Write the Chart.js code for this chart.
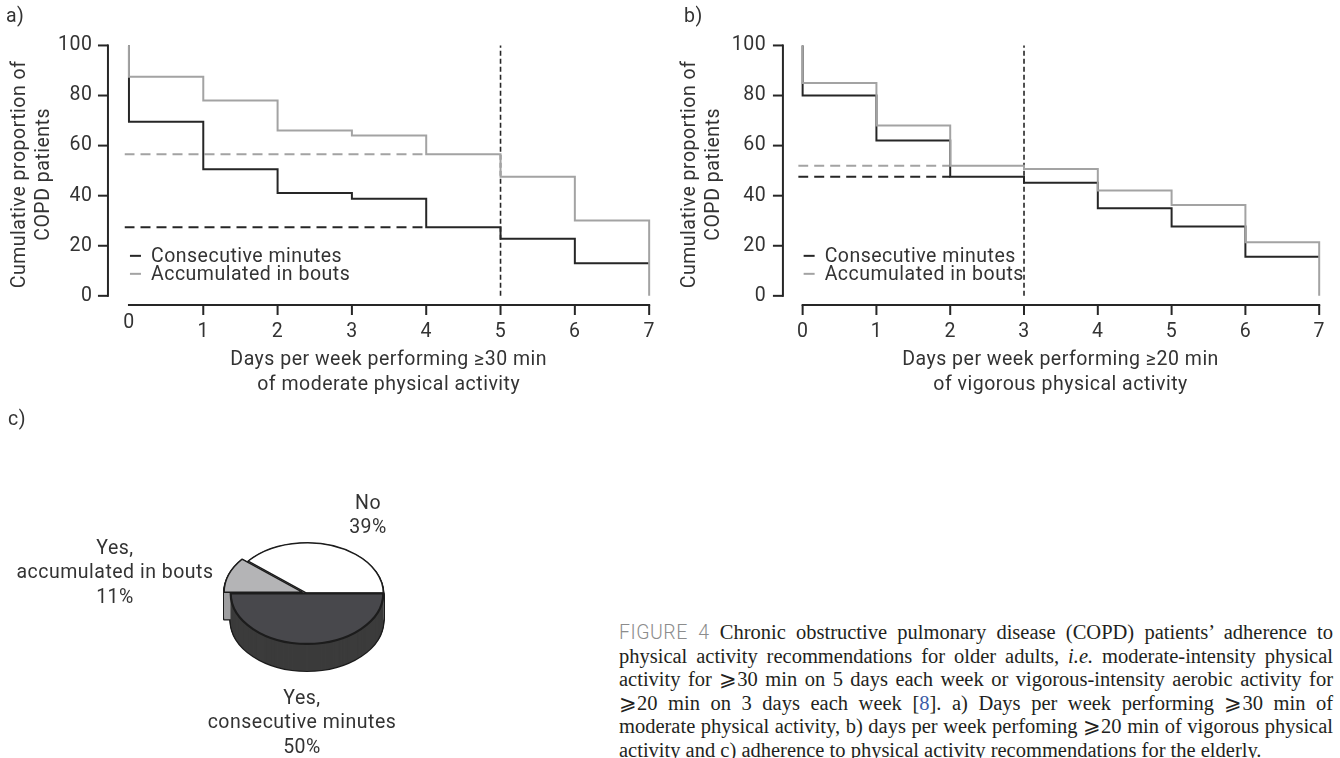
<!DOCTYPE html>
<html><head><meta charset="utf-8">
<script src="https://cdn.jsdelivr.net/npm/chart.js@4.4.1/dist/chart.umd.min.js"></script>
<style>
html,body{margin:0;padding:0;background:#fff;}
body{width:1340px;height:758px;position:relative;overflow:hidden;}
canvas{position:absolute;display:block;}
#chartA{left:0;top:0;}
#chartB{left:670px;top:0;}
#chartC{left:0;top:400px;}
#caption{position:absolute;left:619px;top:621px;width:714px;font-family:'Liberation Serif',serif;font-size:20.5px;line-height:23.5px;color:#231f20;}
#caption .ln{text-align:justify;text-align-last:justify;height:23.5px;white-space:normal;}
#caption .last{text-align-last:left;}
#caption .fig{font-family:Roboto,sans-serif;font-weight:300;color:#8c8c8c;letter-spacing:0.5px;font-size:19.5px;}
#caption .ref{color:#3b5ca8;}
</style>
</head><body>
<canvas id="chartA" width="670" height="400"></canvas>
<canvas id="chartB" width="670" height="400"></canvas>
<canvas id="chartC" width="560" height="358"></canvas>
<div id="caption">
<div class="ln"><span class="fig">FIGURE 4</span> Chronic obstructive pulmonary disease (COPD) patients’ adherence to</div>
<div class="ln">physical activity recommendations for older adults, <i>i.e.</i> moderate-intensity physical</div>
<div class="ln">activity for ⩾30 min on 5 days each week or vigorous-intensity aerobic activity for</div>
<div class="ln">⩾20 min on 3 days each week [<span class="ref">8</span>]. a) Days per week performing ⩾30 min of</div>
<div class="ln">moderate physical activity, b) days per week perfoming ⩾20 min of vigorous physical</div>
<div class="ln last">activity and c) adherence to physical activity recommendations for the elderly.</div>
</div>
<script>
// ---------------- DATA ----------------
const days = [0, 1, 2, 3, 4, 5, 6, 7];
const yTicks = [0, 20, 40, 60, 80, 100];
const startLevel = 100;
const seriesLabels = ['Consecutive minutes', 'Accumulated in bouts'];
// level held from day i to day i+1 (last entry = value at day 7)
const aConsecutive = [69.5, 50.6, 41.1, 38.8, 27.4, 22.8, 13.0, 13.0];
const aBouts       = [87.5, 78.0, 66.0, 64.0, 56.5, 47.6, 30.1, 0];
const bConsecutive = [80.0, 62.0, 47.6, 45.2, 35.0, 27.7, 15.6, 15.6];
const bBouts       = [85.0, 68.0, 52.0, 50.7, 42.1, 36.3, 21.4, 0];
const aThreshold = 5;
const bThreshold = 3;
const yTitle = ['Cumulative proportion of', 'COPD patients'];
const aXTitle = ['Days per week performing \u226530 min', 'of moderate physical activity'];
const bXTitle = ['Days per week performing \u226520 min', 'of vigorous physical activity'];
const pieLabels = ['Yes,\nconsecutive minutes', 'Yes,\naccumulated in bouts', 'No'];
const pieValues = [50, 11, 39];

// ---------------- STYLE ----------------
const FONT = 'Roboto, "Noto Sans", sans-serif';
const TXT = '#333333';
const DARK = '#262626';
const GREY = '#a3a3a3';
const SPACING = '0.5px';
Chart.defaults.font.family = FONT;
Chart.defaults.font.size = 19.5;
Chart.defaults.color = TXT;

const spacingPlugin = {
  id: 'letterSpacing',
  beforeUpdate(chart) { chart.ctx.letterSpacing = SPACING; },
  beforeDraw(chart) { chart.ctx.letterSpacing = SPACING; }
};

const panelPlugin = {
  id: 'panelAxes',
  afterDraw(chart, args, o) {
    const {ctx, chartArea, scales: {x, y}} = chart;
    const x0 = x.getPixelForValue(days[0]);
    const xN = x.getPixelForValue(days[days.length - 1]);
    const yAxisX = x0 - o.yAxisGap;
    ctx.save();
    ctx.strokeStyle = DARK; ctx.lineWidth = 2; ctx.lineCap = 'butt';
    ctx.beginPath();
    ctx.moveTo(yAxisX, y.getPixelForValue(yTicks[0]) + 1);
    ctx.lineTo(yAxisX, y.getPixelForValue(yTicks[yTicks.length - 1]) - 1);
    ctx.stroke();
    yTicks.forEach(v => {
      const py = y.getPixelForValue(v);
      ctx.beginPath(); ctx.moveTo(yAxisX - o.tickLen, py); ctx.lineTo(yAxisX, py); ctx.stroke();
    });
    const ay = chartArea.bottom;
    ctx.beginPath(); ctx.moveTo(x0 - 1, ay); ctx.lineTo(xN + 1, ay); ctx.stroke();
    days.forEach(d => {
      if (d === days[0] && !o.zeroTick) return;
      const px = x.getPixelForValue(d);
      ctx.beginPath(); ctx.moveTo(px, ay); ctx.lineTo(px, ay + o.tickLen); ctx.stroke();
    });
    // legend
    const zeroY = y.getPixelForValue(0);
    ctx.font = '19.5px ' + FONT; ctx.textBaseline = 'middle'; ctx.textAlign = 'left';
    seriesLabels.forEach((lab, i) => {
      const ds = chart.data.datasets.find(d => d.label === lab);
      const ly = zeroY - o.legendRows[i];
      ctx.strokeStyle = ds.borderColor; ctx.lineWidth = 2;
      ctx.beginPath(); ctx.moveTo(x0 + 1, ly); ctx.lineTo(x0 + 12, ly); ctx.stroke();
      ctx.fillStyle = TXT; ctx.fillText(lab, x0 + o.legendTextGap, ly + 1);
    });
    ctx.fillStyle = TXT;
    ctx.fillText(o.tag, o.tagX, o.tagY);
    ctx.restore();
  }
};

function stepPoints(levels) {
  const pts = [{x: days[0], y: startLevel}];
  levels.forEach((v, i) => pts.push({x: days[i], y: v}));
  return pts;
}

function makePanel(id, p) {
  const xMin = -0.06, xMax = 7.05;
  const guideIdx = p.threshold - 1;
  const datasets = [
    {label: seriesLabels[1], data: stepPoints(p.bouts), borderColor: GREY, borderWidth: 2, stepped: 'before', order: 0},
    {label: seriesLabels[0], data: stepPoints(p.consecutive), borderColor: DARK, borderWidth: 2, stepped: 'before', order: 1},
    {label: 'bouts guide', data: [{x: xMin, y: p.bouts[guideIdx]}, {x: days[guideIdx], y: p.bouts[guideIdx]}], borderColor: GREY, borderWidth: 2, borderDash: [10, 6], order: 2},
    {label: 'consecutive guide', data: [{x: xMin, y: p.consecutive[guideIdx]}, {x: days[guideIdx], y: p.consecutive[guideIdx]}], borderColor: DARK, borderWidth: 2, borderDash: [10, 6], order: 3},
    {label: 'recommendation', data: [{x: p.threshold, y: 0}, {x: p.threshold, y: 100}], borderColor: DARK, borderWidth: 1.6, borderDash: [5, 3], order: 4}
  ];
  return new Chart(document.getElementById(id), {
    type: 'line',
    data: {datasets},
    options: {
      responsive: false, animation: false, devicePixelRatio: 1,
      layout: {padding: {left: 0, right: p.padRight, top: 20, bottom: 0}},
      elements: {point: {radius: 0}, line: {tension: 0, fill: false, borderCapStyle: 'butt'}},
      plugins: {legend: {display: false}, tooltip: {enabled: false},
        panelAxes: {yAxisGap: p.yAxisGap, tickLen: 10, zeroTick: p.zeroTick, legendRows: [40, 22], legendTextGap: 22, tag: p.tag, tagX: p.tagX, tagY: 17}},
      scales: {
        x: {type: 'linear', min: xMin, max: xMax,
          grid: {display: false, drawTicks: false}, border: {display: false},
          ticks: {padding: 15, color: TXT, maxRotation: 0, autoSkip: false,
            font: c => (c.index === 0 && !p.zeroTick) ? {size: 19.5, lineHeight: '6px'} : {size: 19.5, lineHeight: 1.2}},
          afterBuildTicks: s => { s.ticks = days.map(v => ({value: v})); },
          afterFit: s => { s.height = 95; },
          title: {display: true, text: p.xTitle, color: TXT, font: {size: 19.5, lineHeight: '25px'}, padding: {top: 0, bottom: 2.5}}
        },
        y: {type: 'linear', min: -3.66, max: 100.7,
          grid: {display: false, drawTicks: false}, border: {display: false},
          ticks: {padding: 32, color: TXT},
          afterBuildTicks: s => { s.ticks = yTicks.map(v => ({value: v})); },
          afterFit: s => { s.width = p.left; },
          title: {display: true, text: yTitle, color: TXT, font: {size: 19.5, lineHeight: '24px'}, padding: {top: 8, bottom: 0}}
        }
      }
    },
    plugins: [spacingPlugin, panelPlugin]
  });
}

makePanel('chartA', {tag: 'a)', tagX: 6, consecutive: aConsecutive, bouts: aBouts, threshold: aThreshold, xTitle: aXTitle, left: 124.5, padRight: 15.3, yAxisGap: 21, zeroTick: false});
makePanel('chartB', {tag: 'b)', tagX: 14, consecutive: bConsecutive, bouts: bBouts, threshold: bThreshold, xTitle: bXTitle, left: 128.2, padRight: 10.7, yAxisGap: 19.7, zeroTick: true});

// ---------------- PIE (3D look) ----------------
function arcPath(ctx, arc, k, dy) {
  const off = (arc.options.offset || 0) / 4;
  const mid = (arc.startAngle + arc.endAngle) / 2;
  const circ = arc.endAngle - arc.startAngle;
  const r = arc.outerRadius + off * (1 - Math.sin(Math.min(Math.PI, circ)));
  ctx.save();
  ctx.translate(arc.x, arc.y + dy);
  ctx.scale(1, k);
  ctx.translate(Math.cos(mid) * off, Math.sin(mid) * off);
  ctx.beginPath();
  ctx.moveTo(0, 0);
  ctx.arc(0, 0, r, arc.startAngle, arc.endAngle);
  ctx.closePath();
  ctx.restore();
}

const pie3d = {
  id: 'pie3d',
  beforeDatasetsDraw(chart, args, o) {
    const ctx = chart.ctx;
    const arcs = chart.getDatasetMeta(0).data;
    const order = [2, 1, 0];
    ctx.save();
    ctx.strokeStyle = o.lineColor; ctx.lineWidth = o.lineWidth * 2; ctx.lineJoin = 'round';
    for (let d = o.depth; d >= 1; d--) for (const i of order) { arcPath(ctx, arcs[i], o.squash, d); ctx.stroke(); }
    for (let d = o.depth; d >= 1; d--) for (const i of order) { arcPath(ctx, arcs[i], o.squash, d); ctx.fillStyle = o.sideColors[i]; ctx.fill(); }
    ctx.restore();
    const cx = arcs[0].x, cy = arcs[0].y;
    ctx.save();
    ctx.translate(cx, cy); ctx.scale(1, o.squash); ctx.translate(-cx, -cy);
  },
  afterDatasetsDraw(chart, args, o) {
    const ctx = chart.ctx;
    ctx.restore();
    const arcs = chart.getDatasetMeta(0).data;
    ctx.save();
    ctx.strokeStyle = o.lineColor; ctx.lineJoin = 'round';
    for (const i of [2, 1, 0]) { arcPath(ctx, arcs[i], o.squash, 0); ctx.lineWidth = o.topWidths[i]; ctx.stroke(); }
    ctx.restore();
  },
  afterDraw(chart, args, o) {
    const ctx = chart.ctx;
    const arcs = chart.getDatasetMeta(0).data;
    const cx = arcs[0].x, cy = arcs[0].y;
    ctx.save();
    ctx.font = '19.5px ' + FONT; ctx.fillStyle = TXT; ctx.textAlign = 'center'; ctx.textBaseline = 'middle';
    chart.data.labels.forEach((lab, i) => {
      const lines = lab.split('\n').concat([chart.data.datasets[0].data[i] + '%']);
      const pos = o.labelPos[i];
      lines.forEach((t, j) => ctx.fillText(t, cx + pos[0], cy + pos[1] + j * o.labelLine));
    });
    ctx.textAlign = 'left';
    ctx.fillText(o.tag, 8, 20);
    ctx.restore();
  }
};

new Chart(document.getElementById('chartC'), {
  type: 'pie',
  data: {labels: pieLabels, datasets: [{data: pieValues, backgroundColor: ['#48484c', '#b4b4b6', '#ffffff'], borderWidth: 0, offset: [0, 20, 0]}]},
  options: {
    responsive: false, animation: false, devicePixelRatio: 1,
    rotation: 90, radius: 76.3,
    layout: {padding: {left: 217, right: 163, top: 103.3, bottom: 74.7}},
    plugins: {legend: {display: false}, tooltip: {enabled: false},
      pie3d: {squash: 0.663, depth: 27, lineColor: '#1c1c1c', lineWidth: 1.2,
        sideColors: ['#3b3b3b', '#9e9ea0', '#dddddd'], topWidths: [2.2, 1.4, 1.4],
        labelLine: 24.5, labelPos: [[-5, 105.7], [-192, -44.3], [61, -89.3]], tag: 'c)'}}
  },
  plugins: [spacingPlugin, pie3d]
});
</script>
</body></html>
